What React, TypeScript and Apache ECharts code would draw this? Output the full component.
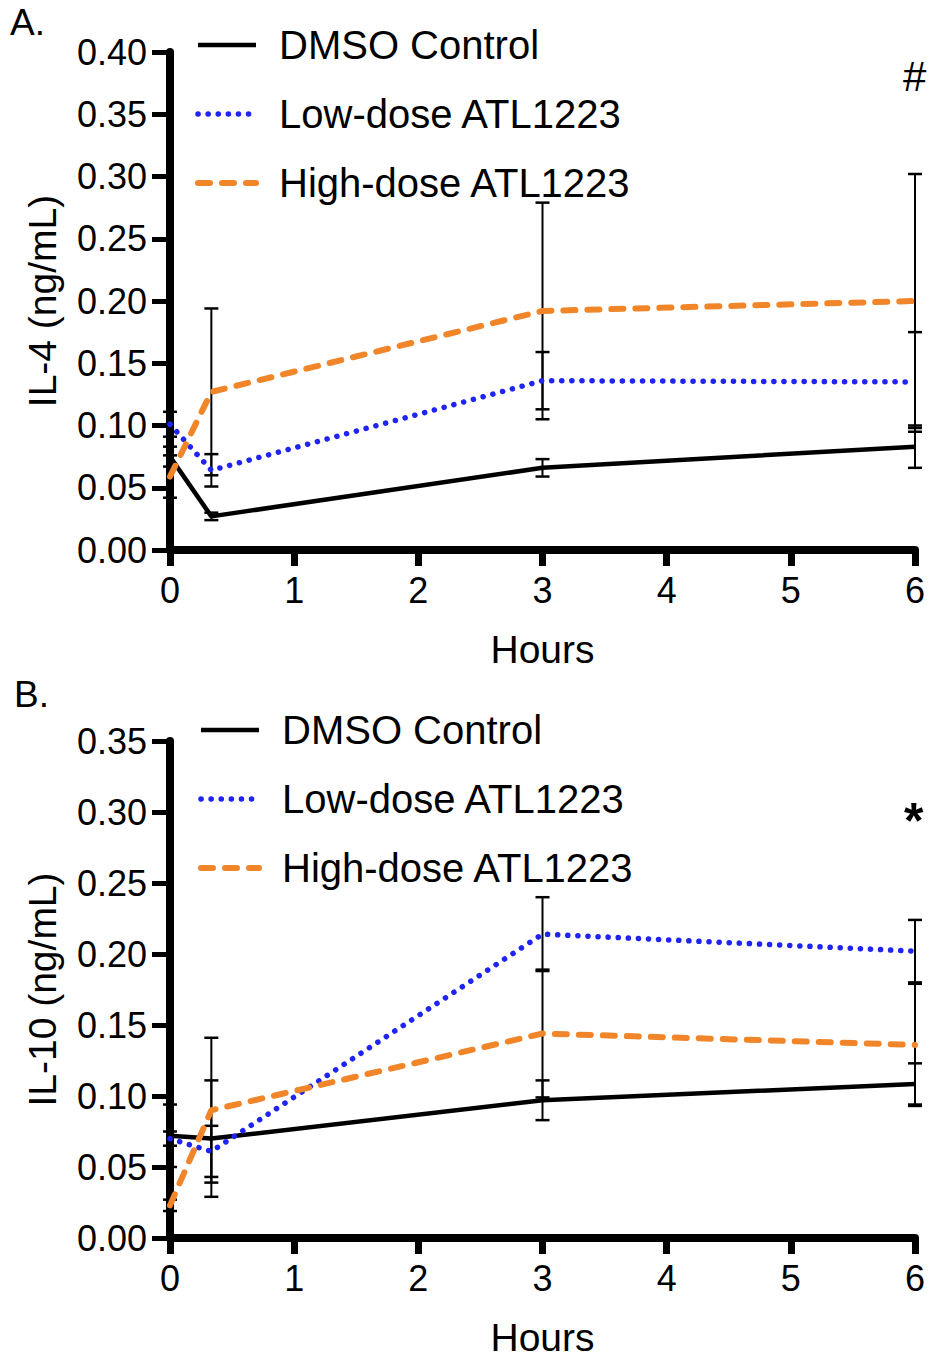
import React, { useEffect, useRef } from "react";
import * as echarts from "echarts";

const seriesNames = ["DMSO Control", "Low-dose ATL1223", "High-dose ATL1223"];
const hours = [0, 0.333, 3, 6];
const xTicks = [0, 1, 2, 3, 4, 5, 6];

// Panel A: IL-4 (ng/mL)
const il4Dmso = [0.075, 0.027, 0.066, 0.083];
const il4DmsoErr = [0.008, 0.003, 0.007, 0.017];
const il4Low = [0.101, 0.064, 0.136, 0.135];
const il4LowErr = [0.01, 0.013, 0.023, 0.04];
const il4High = [0.059, 0.127, 0.192, 0.2];
const il4HighErr = [0.017, 0.067, 0.087, 0.102];

// Panel B: IL-10 (ng/mL)
const il10Dmso = [0.072, 0.07, 0.097, 0.1085];
const il10DmsoErr = [0.022, 0.041, 0.014, 0.0145];
const il10Low = [0.07, 0.061, 0.214, 0.202];
const il10LowErr = [0.005, 0.018, 0.026, 0.022];
const il10High = [0.023, 0.09, 0.144, 0.136];
const il10HighErr = [0.004, 0.051, 0.045, 0.043];

const FONT = "Liberation Sans, Arial, Helvetica, sans-serif";
const BLUE = "#1f24f5";
const ORANGE = "#f0852a";

const lineStyles = [
  { color: "#000", width: 4.5, type: "solid" as any },
  { color: BLUE, width: 5.5, type: [0.1, 10], cap: "round" },
  { color: ORANGE, width: 6, type: [12, 12], cap: "round" },
];

function errData(mean: number[], err: number[]) {
  return hours.map((h, i) => [h, mean[i] - err[i], mean[i] + err[i]]);
}

function renderErr(params: any, api: any) {
  const x = api.value(0);
  const top = api.coord([x, api.value(2)]);
  const bot = api.coord([x, api.value(1)]);
  const w = 7;
  const st = { stroke: "#000", lineWidth: 2 };
  return {
    type: "group",
    children: [
      { type: "line", shape: { x1: top[0], y1: top[1], x2: bot[0], y2: bot[1] }, style: st },
      { type: "line", shape: { x1: top[0] - w, y1: top[1], x2: top[0] + w, y2: top[1] }, style: { stroke: "#000", lineWidth: 2.5 } },
      { type: "line", shape: { x1: bot[0] - w, y1: bot[1], x2: bot[0] + w, y2: bot[1] }, style: { stroke: "#000", lineWidth: 2.5 } },
    ],
  };
}

function xAxis(gridIndex: number) {
  return {
    type: "value",
    gridIndex,
    min: 0,
    max: 6,
    interval: 1,
    name: "Hours",
    nameLocation: "middle",
    nameGap: 80,
    nameTextStyle: { fontSize: 39, color: "#000", fontFamily: FONT },
    axisLine: { show: true, lineStyle: { color: "#000", width: 8 } },
    axisTick: { show: true, length: 16, lineStyle: { color: "#000", width: 7 } },
    axisLabel: { fontSize: 36, color: "#000", fontFamily: FONT, margin: 22, formatter: (v: number) => (xTicks.includes(v) ? String(v) : "") },
    splitLine: { show: false },
  };
}

function yAxis(gridIndex: number, max: number, name: string) {
  return {
    type: "value",
    gridIndex,
    min: 0,
    max,
    interval: 0.05,
    name,
    nameLocation: "middle",
    nameGap: 108,
    nameTextStyle: { fontSize: 39, color: "#000", fontFamily: FONT },
    axisLine: { show: true, lineStyle: { color: "#000", width: 8 } },
    axisTick: { show: true, length: 18, lineStyle: { color: "#000", width: 5 } },
    axisLabel: { fontSize: 36, color: "#000", fontFamily: FONT, margin: 23, formatter: (v: number) => v.toFixed(2) },
    splitLine: { show: false },
  };
}

function panelSeries(idx: number, means: number[][], errs: number[][]) {
  const out: any[] = [];
  means.forEach((m, i) => {
    out.push({
      type: "custom",
      name: seriesNames[i] + " error",
      xAxisIndex: idx,
      yAxisIndex: idx,
      data: errData(m, errs[i]),
      renderItem: renderErr,
      encode: { x: 0, y: [1, 2] },
      z: 1,
      silent: true,
    });
  });
  means.forEach((m, i) => {
    out.push({
      type: "line",
      name: seriesNames[i],
      xAxisIndex: idx,
      yAxisIndex: idx,
      data: hours.map((h, j) => [h, m[j]]),
      symbol: "none",
      lineStyle: lineStyles[i],
      itemStyle: { color: lineStyles[i].color },
      z: 3,
    });
  });
  return out;
}

function legend(left: number, top: number) {
  return {
    orient: "vertical",
    left,
    top,
    itemWidth: 58,
    itemHeight: 20,
    itemGap: 29,
    data: seriesNames,
    itemStyle: { opacity: 0 },
    lineStyle: { width: "inherit", type: "inherit", cap: "inherit" },
    textStyle: { fontSize: 40, lineHeight: 40, color: "#000", fontFamily: FONT, padding: [0, 0, 0, 18] },
    selectedMode: false,
  };
}

export default function App() {
  const ref = useRef<HTMLDivElement>(null);
  useEffect(() => {
    document.body.style.margin = "0";
    const chart = echarts.init(ref.current!, null, { renderer: "svg" });
    chart.setOption({
      animation: false,
      backgroundColor: "#fff",
      grid: [
        { left: 170, right: 17, top: 52, bottom: 809 },
        { left: 170, right: 17, top: 741, bottom: 121 },
      ],
      xAxis: [xAxis(0), xAxis(1)],
      yAxis: [yAxis(0, 0.4, "IL-4 (ng/mL)"), yAxis(1, 0.35, "IL-10 (ng/mL)")],
      legend: [legend(190, 20), legend(193, 705)],
      series: [
        ...panelSeries(0, [il4Dmso, il4Low, il4High], [il4DmsoErr, il4LowErr, il4HighErr]),
        ...panelSeries(1, [il10Dmso, il10Low, il10High], [il10DmsoErr, il10LowErr, il10HighErr]),
      ],
      graphic: [
        { type: "text", left: 10, top: 4, style: { text: "A.", fontSize: 37, fill: "#000", fontFamily: FONT } },
        { type: "text", left: 14, top: 676, style: { text: "B.", fontSize: 37, fill: "#000", fontFamily: FONT } },
        { type: "text", left: 903, top: 55, style: { text: "#", fontSize: 42, fill: "#000", fontFamily: FONT } },
        { type: "text", left: 904, top: 796, style: { text: "*", fontSize: 50, fontWeight: "bold", fill: "#000", fontFamily: FONT } },
      ],
    });
    return () => chart.dispose();
  }, []);
  return <div ref={ref} style={{ width: 932, height: 1359 }} />;
}
